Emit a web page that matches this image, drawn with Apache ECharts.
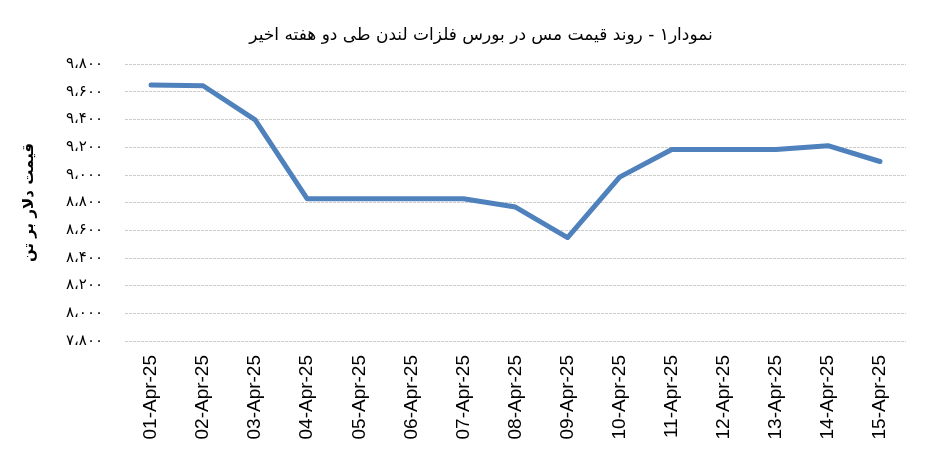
<!DOCTYPE html>
<html>
<head>
<meta charset="utf-8">
<script src="https://cdn.jsdelivr.net/npm/echarts@6/dist/echarts.min.js"></script>
<style>
html,body{margin:0;padding:0;background:#fff;}
#chart{width:946px;height:473px;}
</style>
</head>
<body>
<div id="chart"></div>
<script>
const titleText = 'نمودار۱ - روند قیمت مس در بورس فلزات لندن طی دو هفته اخیر';
const yAxisName = 'قیمت دلار بر تن';
const categories = ['01-Apr-25','02-Apr-25','03-Apr-25','04-Apr-25','05-Apr-25','06-Apr-25','07-Apr-25','08-Apr-25','09-Apr-25','10-Apr-25','11-Apr-25','12-Apr-25','13-Apr-25','14-Apr-25','15-Apr-25'];
const prices = [9648, 9643, 9396, 8827, 8827, 8827, 8827, 8767, 8547, 8983, 9183, 9183, 9183, 9210, 9096];
const yMin = 7800, yMax = 9800, yStep = 200;

const faDigits = ['۰','۱','۲','۳','۴','۵','۶','۷','۸','۹'];
function toPersian(v){
  const s = String(Math.round(v));
  const withSep = s.replace(/\B(?=(\d{3})+(?!\d))/g, '،');
  return withSep.replace(/\d/g, d => faDigits[+d]);
}

const chart = echarts.init(document.getElementById('chart'), null, {renderer:'canvas'});
chart.setOption({
  backgroundColor:'#ffffff',
  animation:false,
  graphic:[{
    type:'text',
    x: 481, y: 36,
    style:{text:titleText, font:'17px "DejaVu Sans"', fill:'#000', align:'center', verticalAlign:'middle'}
  }],
  grid:{left:125, right:40, top:64, bottom:132, containLabel:false},
  xAxis:{
    type:'category',
    data:categories,
    boundaryGap:true,
    axisLine:{show:false},
    axisTick:{show:false},
    axisLabel:{rotate:90, margin:14, fontSize:19, color:'#000', fontFamily:'Liberation Sans'}
  },
  yAxis:{
    type:'value',
    min:yMin, max:yMax, interval:yStep,
    name:yAxisName,
    nameLocation:'middle',
    nameGap:88,
    nameRotate:90,
    nameTextStyle:{fontSize:15, fontWeight:'bold', color:'#000', fontFamily:'DejaVu Sans'},
    axisLine:{show:false},
    axisTick:{show:false},
    axisLabel:{margin:22, fontSize:15, color:'#000', fontFamily:'DejaVu Sans', formatter:toPersian},
    splitLine:{show:true, lineStyle:{color:'#cccccc', width:1, type:[3,1]}}
  },
  series:[{
    type:'line',
    data:prices,
    showSymbol:false,
    symbol:'none',
    lineStyle:{color:'#4f81bd', width:5, cap:'round', join:'round'},
    itemStyle:{color:'#4f81bd'}
  }]
});
</script>
</body>
</html>
